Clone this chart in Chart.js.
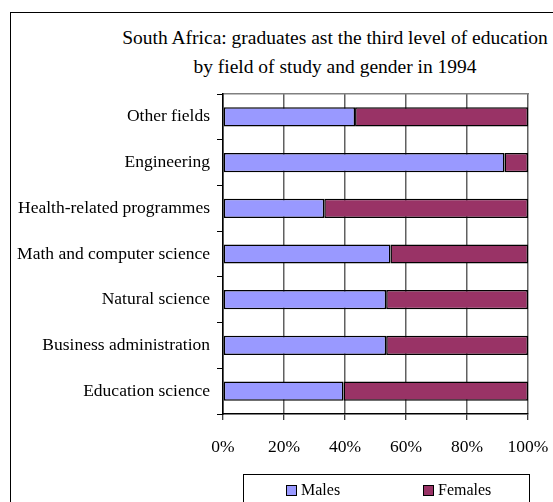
<!DOCTYPE html>
<html>
<head>
<meta charset="utf-8">
<script src="https://cdn.jsdelivr.net/npm/chart.js@4.4.1/dist/chart.umd.min.js"></script>
<style>
body { margin: 0; width: 553px; height: 502px; overflow: hidden; background: #fff; font-family: "Liberation Serif", "Times New Roman", serif; color: #000; }
#cadre { position: absolute; left: 10px; top: 12px; width: 640px; height: 540px; border: 1px solid #000; }
#titre { position: absolute; left: 0; top: 23px; width: 670px; text-align: center; font-size: 19.5px; line-height: 29px; }
#zone { position: absolute; left: 0; top: 0; }
#legende { position: absolute; left: 243px; top: 474px; width: 287px; height: 40px; border: 1px solid #000; box-sizing: border-box; font-size: 16px; }
#legende .item { position: absolute; top: 7px; display: flex; align-items: center; line-height: 16px; }
#legende .item:nth-child(1) { left: 42px; }
#legende .item:nth-child(2) { left: 179px; }
#legende .carre { width: 11px; height: 11px; border: 1px solid #000; box-sizing: border-box; margin-right: 4px; }
</style>
</head>
<body>
<div id="cadre"></div>
<div id="titre">South Africa: graduates ast the third level of education<br>by field of study and gender in 1994</div>
<canvas id="zone" width="553" height="502"></canvas>
<div id="legende"></div>
<script>
// donnees
const categories = ["Other fields", "Engineering", "Health-related programmes", "Math and computer science", "Natural science", "Business administration", "Education science"];
const males = [43.3, 92.3, 33.2, 54.9, 53.5, 53.5, 39.5];
const females = [56.7, 7.7, 66.8, 45.1, 46.5, 46.5, 60.5];
const xTickLabels = ["0%", "20%", "40%", "60%", "80%", "100%"];

Chart.defaults.font.family = '"Liberation Serif", "Times New Roman", serif';
Chart.defaults.color = '#000';

const dataGraph = {
    labels: categories,
    datasets: [{
        label: 'Males',
        data: males,
        backgroundColor: '#9999FF',
        borderColor: '#000',
        borderWidth: 1.5,
        borderSkipped: false,
        barPercentage: 0.42,
        categoryPercentage: 1
    }, {
        label: 'Females',
        data: females,
        backgroundColor: '#993366',
        borderColor: '#000',
        borderWidth: 1.5,
        borderSkipped: false,
        barPercentage: 0.42,
        categoryPercentage: 1
    }]
};

const configGraph = {
    type: 'bar',
    data: dataGraph,
    options: {
        indexAxis: 'y',
        responsive: false,
        animation: false,
        layout: { padding: { top: 94, bottom: 27, left: 0, right: 25 } },
        plugins: {
            legend: { display: false },
            tooltip: { enabled: false }
        },
        scales: {
            x: {
                stacked: true,
                min: 0,
                max: 100,
                ticks: { stepSize: 20, padding: 17, font: { size: 17.5 }, callback: (v, i) => xTickLabels[i] },
                grid: { color: '#606060', lineWidth: 1.5, tickColor: '#000', tickWidth: 1, tickLength: 6 },
                border: { color: '#000', width: 1.5 },
                // sinon le padding des ticks pousse la zone vers la gauche
                afterFit: (s) => { s.paddingRight = 25; }
            },
            // axe du haut juste pour le trait gris du cadre
            x2: {
                position: 'top',
                ticks: { display: false },
                grid: { display: false, drawTicks: false },
                border: { color: '#808080', width: 1.5 }
            },
            y: {
                stacked: true,
                ticks: { padding: 7, font: { size: 17.5 } },
                grid: { offset: true, drawOnChartArea: false, tickLength: 6, tickWidth: 1, color: '#000' },
                border: { color: '#000', width: 1.5 },
                afterFit: (s) => { s.width = 223; }
            }
        }
    }
};

const myChart = new Chart(document.getElementById('zone'), configGraph);

// legende en html a partir des datasets
const legende = document.getElementById('legende');
myChart.data.datasets.forEach((ds) => {
    const item = document.createElement('div');
    item.className = 'item';
    const carre = document.createElement('span');
    carre.className = 'carre';
    carre.style.background = ds.backgroundColor;
    item.appendChild(carre);
    item.appendChild(document.createTextNode(ds.label));
    legende.appendChild(item);
});
</script>
</body>
</html>
